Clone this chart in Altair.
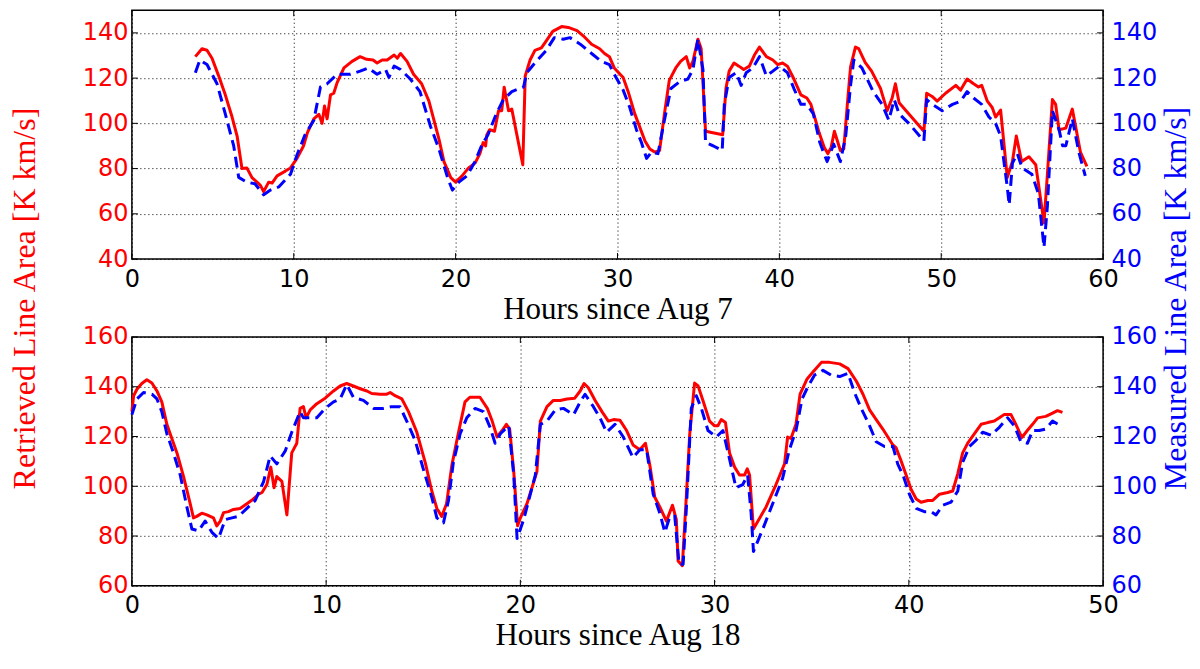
import altair as alt
import pandas as pd

# ---------------- data ----------------
top_ret_h = [3.92, 4.33, 4.64, 4.95, 5.36, 5.77, 6.19, 6.5, 6.8, 7.1, 7.42, 7.73, 7.94, 8.14, 8.45, 8.66, 8.97, 9.48, 9.8,
             10.2, 10.6, 10.85, 11.24, 11.55, 11.75, 11.9, 12.06, 12.27, 12.47, 12.68, 13.1, 13.6, 14.1, 14.5, 14.9, 15.15,
             15.46, 15.77, 16.2, 16.4, 16.6, 17.0, 17.4, 17.9, 18.35, 18.66, 18.97, 19.28, 19.7, 20.0, 20.4, 20.8, 21.2,
             21.5, 21.7, 21.85, 21.93, 22.1, 22.4, 22.65, 22.85, 23.0, 23.27, 23.47, 24.15, 24.3, 24.6, 24.9, 25.3, 25.6,
             26.0, 26.55, 26.96, 27.5, 27.9, 28.4, 28.9, 29.2, 29.5, 29.8, 30.35, 30.66, 31.07, 31.4, 31.7, 32.0, 32.3,
             32.6, 32.9, 33.2, 33.6, 33.9, 34.25, 34.46, 34.66, 34.97, 35.17, 35.44, 36.5, 36.7, 36.9, 37.2, 37.5, 37.8,
             38.15, 38.46, 38.77, 39.2, 39.6, 39.9, 40.2, 40.5, 40.9, 41.33, 41.7, 41.95, 42.15, 42.46, 42.77, 43.0, 43.2,
             43.4, 43.77, 43.98, 44.2, 44.4, 44.7, 44.9, 45.3, 45.7, 46.25, 46.66, 46.97, 47.17, 47.4, 48.93, 49.1, 49.44,
             49.75, 50.27, 50.9, 51.2, 51.6, 52.0, 52.3, 52.5, 52.85, 53.15, 53.36, 53.67, 54.08, 54.4, 54.64, 54.97,
             55.42, 55.84, 56.35, 56.56, 56.87, 57.07, 57.28, 57.7, 58.1, 58.6, 59.0]
top_ret_v = [129.5, 133, 132.3, 128.8, 121, 112.6, 102.8, 94.4, 80, 80.3, 76, 74, 72.6, 69.8, 74, 73.6, 76.8, 78.9, 80.3,
             84.5, 90, 96, 102, 104, 100, 107.7, 102, 112.6, 113.3, 118, 124.5, 127.4, 129.5, 128.3, 128, 126.7,
             128, 128, 130.2, 128.8, 130.9, 127.4, 121.7, 117.5, 109.8, 101.4, 93, 83.1, 76, 74, 76.8, 80.3, 82.4,
             86.6, 91.5, 90, 95, 97.2, 96.5, 105.6, 105.6, 116, 105.6, 106.3, 81.7, 121, 128, 132.3, 133.4, 136.5,
             140.7, 142.8, 142.4, 141, 138.6, 135, 133, 130.9, 129.5, 124.5, 120.3, 114, 104.2, 97.9, 92.2, 88.7, 87.3,
             88, 104.2, 119, 124.5, 127.4, 129.5, 124.5, 127.4, 137.2, 133, 96.5, 95, 115.4, 123.1, 126.7, 125.3, 123.8,
             125.3, 130.2, 133.7, 129.5, 128, 126, 126.7, 125.3, 119.6, 112.6, 111.2, 108.4, 103.5, 95.8, 89.4, 86.6, 89.4,
             96.5, 88, 88.7, 108.4, 125, 133.7, 133, 127, 123.1, 115.4, 105.6, 111.2, 117.5, 109.1, 96.5, 113.3, 111.9,
             109.8, 113.3, 116.8, 114.7, 119.6, 117.5, 116.1, 116.8, 109.8, 107, 102.8, 105.9, 76.1, 83.1, 94.4, 83.1,
             85.2, 81.7, 56, 77.5, 110.5, 108.4, 97.2, 97.9, 106.3, 87.3, 81]

top_meas_h = [3.92, 4.2, 4.64, 5.26, 5.77, 6.29, 6.6, 7.1, 7.6, 8.14, 8.56, 9.07, 9.8, 10.2, 10.7, 11.24, 11.65, 12.06,
              12.68, 13.5, 14.1, 14.6, 15.15, 15.67, 15.88, 16.2, 16.6, 17.2, 17.8, 18.45, 18.97, 19.5, 19.8, 20.2, 20.7,
              21.2, 21.6, 22.0, 22.5, 22.95, 23.47, 24.2, 24.4, 24.9, 25.6, 26.1, 26.65, 27.06, 27.7, 28.4, 29.0, 29.5,
              29.8, 30.35, 30.76, 31.17, 31.48, 31.8, 32.1, 32.5, 32.9, 33.3, 33.8, 34.35, 34.66, 34.97, 35.28, 35.44,
              35.9, 36.47, 36.6, 36.9, 37.33, 37.64, 37.95, 38.36, 38.77, 39.2, 39.6, 40.0, 40.5, 40.9, 41.33, 41.7,
              42.1, 42.5, 42.95, 43.36, 43.77, 44.1, 44.4, 44.6, 45.1, 45.8, 46.35, 46.76, 47.1, 47.4, 48.0, 48.93,
              49.1, 49.44, 50.06, 50.7, 51.2, 51.6, 52.0, 52.5, 52.95, 53.36, 53.67, 54.08, 54.2, 54.4, 54.7, 55.0,
              55.6, 56.0, 56.35, 56.56, 56.87, 57.28, 57.5, 57.7, 58.1, 58.5, 58.9]
top_meas_v = [122.4, 128, 126, 117.5, 104.2, 90, 76.1, 74, 73.3, 68.4, 70.5, 71.9, 77.5, 86, 95, 101.4, 116.1, 117.5,
              121.7, 121.7, 123.1, 124.5, 121.7, 123.8, 120.3, 125.3, 123.8, 119.6, 114, 98.6, 88.7, 76.1, 70.5, 74, 76.8,
              83.1, 90.1, 95, 104, 110.5, 114, 116.1, 122.4, 126.7, 132.3, 137.9, 137.2, 137.9, 135, 130.9, 127.4, 126,
              121.7, 114.7, 107, 97.2, 91.5, 84.5, 87.3, 86.6, 101.4, 115.4, 118.2, 119.6, 123.8, 137.2, 123.8, 91.5,
              90.1, 88, 108.4, 120.3, 122.4, 116.8, 122.4, 124.5, 129.5, 121, 123.1, 125.3, 122.4, 115.4, 108.4, 108.4,
              104.2, 91.5, 83.1, 90.8, 83.1, 94.4, 116.8, 128, 124.5, 114, 108.4, 101.4, 110.5, 104.2, 100, 92.2,
              110.5, 108.4, 105.6, 108.4, 109.8, 114, 111.2, 108.4, 102.8, 100, 94.4, 71.9, 64, 82.4, 86.6, 80.3,
              77.5, 69, 45.2, 63.5, 105.6, 97.2, 90.1, 90.1, 102, 87.3, 76.8]

bot_ret_h = [0, 0.09, 0.26, 0.51, 0.77, 1.03, 1.29, 1.54, 1.8, 1.97, 2.32, 2.66, 3.0, 3.17, 3.34, 3.6, 3.86, 4.2, 4.37,
             4.55, 4.72, 4.97, 5.23, 5.57, 5.92, 6.26, 6.52, 6.7, 6.95, 7.15, 7.32, 7.46, 7.72, 7.98, 8.23, 8.49, 8.66,
             8.83, 8.97, 9.18, 9.52, 9.95, 10.38, 10.72, 11.06, 11.4, 11.75, 12.1, 12.35, 12.78, 13.12, 13.3, 13.55,
             13.9, 14.24, 14.67, 15.1, 15.44, 15.7, 15.95, 16.2, 16.47, 16.8, 17.15, 17.4, 17.92, 18.3, 18.55, 18.8,
             19.06, 19.28, 19.45, 19.66, 19.86, 20.0, 20.34, 20.85, 21.03, 21.37, 21.7, 22.05, 22.4, 22.8, 23.08,
             23.28, 23.5, 23.85, 24.2, 24.53, 24.8, 25.13, 25.47, 25.8, 26.15, 26.44, 26.67, 26.92, 27.18, 27.52,
             27.83, 28.03, 28.12, 28.34, 28.55, 28.72, 28.97, 29.15, 29.4, 29.74, 30.0, 30.17, 30.34, 30.56, 30.77,
             31.03, 31.28, 31.54, 31.68, 31.8, 32.0, 32.65, 33.16, 33.6, 33.76, 33.93, 34.19, 34.4, 34.75, 35.13, 35.5,
             35.92, 36.44, 36.87, 37.3, 37.64, 37.98, 38.32, 38.66, 38.92, 39.18, 39.35, 39.6, 39.86, 40.12, 40.38,
             40.63, 40.98, 41.23, 41.58, 42.0, 42.26, 42.52, 42.77, 43.03, 43.37, 43.72, 44.06, 44.4, 44.66, 44.9,
             45.26, 45.51, 45.82, 46.1, 46.37, 46.63, 47.05, 47.4, 47.65, 47.91]
bot_ret_v = [130, 136.4, 139, 141.3, 142.8, 141.5, 138.3, 133.9, 124.9, 121.1, 113.4, 103.9, 93, 87.3, 87.9, 89.2, 88.5,
             87.3, 84.1, 86, 89.4, 89.8, 90.7, 91.1, 93, 94.9, 96.8, 97.5, 100.7, 107.7, 99.4, 103.9, 102, 88.5, 113.4,
             117.3, 131.3, 132, 127.5, 130.7, 133.2, 135.4, 138.3, 140.3, 141.3, 140.3, 139.2, 138.3, 137.3, 137, 137,
             137.7, 136.4, 135.1, 130, 121.7, 109.6, 98.1, 91.1, 87.9, 93, 108.3, 121.1, 133.9, 135.8, 135.8, 131.3,
             126.2, 119.8, 122.4, 124.9, 123, 105.8, 84.1, 87.3, 93, 105.8, 126.2, 132, 134.5, 134.5, 135.1, 135.4,
             138.3, 141.3, 139.6, 134.5, 130, 126.2, 126.8, 126.5, 122.4, 116.6, 114.7, 117.3, 108.3, 95.6, 91.7, 86,
             92.4, 86.6, 70, 68.1, 96.8, 121.1, 141.5, 140.3, 134.5, 126.2, 124.3, 124.3, 126.8, 125.6, 113.4, 107.7,
             104.5, 104.5, 107, 104.5, 82.8, 91.7, 100.7, 109, 119.8, 119.2, 124.9, 137, 143, 146.5, 149.8, 149.8,
             149.2, 147.3, 142.2, 137, 130.7, 126.8, 123, 119.8, 116.6, 115.4, 110.2, 104.5, 98.7, 94.9, 93.6, 94.3,
             94.3, 96.8, 97.5, 98.1, 105.1, 113.4, 117.3, 121.1, 124.9, 125.6, 126.2, 127.5, 128.8, 128.8, 124.9,
             119.6, 122.4, 124.9, 127.5, 128.1, 129.4, 130.4, 129.7]

bot_meas_h = [0, 0.26, 0.6, 1.03, 1.29, 1.54, 1.8, 2.14, 2.49, 2.83, 3.09, 3.43, 3.77, 4.12, 4.46, 4.8, 5.15, 5.49,
              5.92, 6.35, 6.78, 7.12, 7.46, 7.89, 8.23, 8.66, 8.83, 9.18, 9.52, 9.95, 10.38, 10.72, 11.06, 11.4, 11.92,
              12.44, 12.95, 13.38, 13.8, 14.15, 14.58, 15.0, 15.44, 15.7, 16.04, 16.3, 16.55, 16.9, 17.24, 17.67, 18.1,
              18.44, 18.7, 18.97, 19.4, 19.66, 19.83, 20.17, 20.77, 21.03, 21.37, 21.8, 22.22, 22.74, 23.08, 23.33,
              23.76, 24.1, 24.44, 24.87, 25.3, 25.8, 26.15, 26.5, 26.84, 27.18, 27.44, 27.7, 27.95, 28.17, 28.38,
              28.55, 28.8, 29.06, 29.32, 29.66, 30.09, 30.43, 30.77, 31.1, 31.45, 31.7, 31.88, 32.0, 32.48, 32.99,
              33.5, 33.85, 34.19, 34.5, 34.8, 35.15, 35.58, 36.0, 36.44, 36.87, 37.2, 37.55, 37.98, 38.32, 38.75,
              39.18, 39.43, 39.7, 40.03, 40.38, 40.8, 41.15, 41.4, 41.75, 42.17, 42.52, 42.77, 43.12, 43.46, 43.8,
              44.23, 44.66, 45.09, 45.43, 45.77, 46.11, 46.37, 46.71, 47.05, 47.4, 47.82]
bot_meas_v = [128.8, 135.1, 137.7, 137, 135.1, 130, 121.1, 113.4, 104.5, 91.7, 82.8, 82.1, 86, 81.5, 79, 86.6, 87.3,
              87.9, 91.1, 94.3, 101.9, 112.2, 109, 114.1, 121.7, 130, 127.5, 127.5, 127.5, 131.3, 133.9, 135.1, 140.9,
              135.8, 134.5, 131.3, 131.3, 132, 132, 126.2, 118.5, 107, 95.6, 87.3, 85.3, 94.3, 109.6, 121.1, 127.5,
              131.3, 130, 123.7, 117.3, 121.1, 124.3, 104.5, 79, 86.6, 104.5, 124.9, 126.2, 130.7, 131.3, 128.8, 133.9,
              137, 132, 127.5, 121.7, 124.9, 119.8, 111.5, 114.7, 114.7, 96.8, 89.2, 81.5, 87.9, 87.9, 68.7, 68.7,
              91.7, 131.3, 136.4, 131.3, 122.4, 119.8, 122.4, 110.9, 99.4, 100.7, 104.5, 89.2, 73.8, 82.8, 93,
              103.2, 114.7, 122.4, 135, 140, 144.7, 146.6, 144.7, 144.1, 145.4, 137.7, 131.3, 124.3, 117.9, 116,
              116, 108.9, 104.5, 96.8, 91.1, 89.8, 89.8, 88.5, 92.4, 93.6, 98.1, 109.6, 116, 118.5, 121.7,
              120.5, 123.7, 127.5, 124.3, 117.9, 117.3, 122.4, 122.4, 123, 126.2, 124.3]

top_xticks = [0, 10, 20, 30, 40, 50, 60]
top_yticks = [40, 60, 80, 100, 120, 140]
bot_xticks = [0, 10, 20, 30, 40, 50]
bot_yticks = [60, 80, 100, 120, 140, 160]

# ---------------- style ----------------
W, H, GAP = 972, 249, 78
TICK = 6
RED, BLUE = "#ff0000", "#0000ff"
SANS, SERIF = "DejaVu Sans", "Liberation Serif"
TFS = 31
LEFT_TITLE = "Retrieved Line Area [K km/s]"
RIGHT_TITLE = "Measured Line Area [K km/s]"


def panel(ret_h, ret_v, meas_h, meas_v, xdom, ydom, xticks, yticks, xtitle, xtitle_y, with_ytitles):
    xs = alt.Scale(domain=xdom, nice=False, zero=False)

    def ys():
        return alt.Scale(domain=ydom, nice=False, zero=False)

    xaxis = alt.Axis(values=xticks, format="d", title=xtitle, grid=True, gridDash=[1, 3], gridColor="black",
                     gridWidth=1, domain=False, ticks=False, labelFont=SANS, labelFontSize=24,
                     labelColor="black", labelPadding=8, labelFlush=False, titleFont=SERIF,
                     titleFontSize=TFS, titleFontWeight="normal", titleColor="black",
                     titleBaseline="alphabetic", titleY=xtitle_y)
    ymid = (2 * H + GAP) / 2
    lt = dict(title=LEFT_TITLE, titleX=-97, titleY=ymid) if with_ytitles else dict(title="")
    rt = dict(title=RIGHT_TITLE, titleX=82, titleY=ymid) if with_ytitles else dict(title="")
    laxis = alt.Axis(orient="left", values=yticks, format="d", grid=True, gridDash=[1, 3], gridColor="black",
                     gridWidth=1, domain=False, ticks=False, labelFont=SANS, labelFontSize=24, labelColor=RED,
                     labelPadding=4, titleFont=SERIF, titleFontSize=TFS + 1, titleFontWeight="normal",
                     titleColor=RED, titleAngle=270, titleBaseline="alphabetic", **lt)
    raxis = alt.Axis(orient="right", values=yticks, format="d", grid=False, domain=False, ticks=False,
                     labelFont=SANS, labelFontSize=24, labelColor=BLUE, labelPadding=8, titleFont=SERIF,
                     titleFontSize=TFS + 1, titleFontWeight="normal", titleColor=BLUE, titleAngle=270,
                     titleBaseline="alphabetic", **rt)

    ret = pd.DataFrame({"h": ret_h, "v": ret_v})
    meas = pd.DataFrame({"h": meas_h, "v": meas_v})
    xt = pd.DataFrame({"h": xticks})
    yt = pd.DataFrame({"v": yticks})

    red = alt.Chart(ret).mark_line(color=RED, strokeWidth=3, strokeJoin="round").encode(
        x=alt.X("h:Q", scale=xs, axis=xaxis), y=alt.Y("v:Q", scale=ys(), axis=laxis))
    blue = alt.Chart(meas).mark_line(color=BLUE, strokeWidth=3, strokeDash=[11, 6], strokeJoin="round").encode(
        x=alt.X("h:Q", scale=xs, axis=xaxis), y=alt.Y("v:Q", scale=ys(), axis=raxis))
    xb = alt.Chart(xt).mark_rule(color="black", strokeWidth=1).encode(
        x=alt.X("h:Q", scale=xs, axis=xaxis), y=alt.value(H), y2=alt.value(H - TICK))
    xtp = alt.Chart(xt).mark_rule(color="black", strokeWidth=1).encode(
        x=alt.X("h:Q", scale=xs, axis=xaxis), y=alt.value(0), y2=alt.value(TICK))
    yl = alt.Chart(yt).mark_rule(color="black", strokeWidth=1).encode(
        y=alt.Y("v:Q", scale=ys(), axis=None), x=alt.value(0), x2=alt.value(TICK))
    yr = alt.Chart(yt).mark_rule(color="black", strokeWidth=1).encode(
        y=alt.Y("v:Q", scale=ys(), axis=None), x=alt.value(W), x2=alt.value(W - TICK))

    return alt.layer(red, blue, xb, xtp, yl, yr).resolve_scale(y="independent").properties(width=W, height=H)


top = panel(top_ret_h, top_ret_v, top_meas_h, top_meas_v, [0, 60], [40, 150], top_xticks, top_yticks,
            "Hours since Aug 7", 59, True)
bot = panel(bot_ret_h, bot_ret_v, bot_meas_h, bot_meas_v, [0, 50], [60, 160], bot_xticks, bot_yticks,
            "Hours since Aug 18", 59, False)

chart = alt.vconcat(top, bot, spacing=GAP, bounds="flush").properties(
    padding={"left": 0, "top": 0, "right": 0, "bottom": 0},
    background="white",
).configure_view(stroke="black", strokeWidth=1.5)

chart.save("out.html", embed_options={"renderer": "svg", "actions": False})
